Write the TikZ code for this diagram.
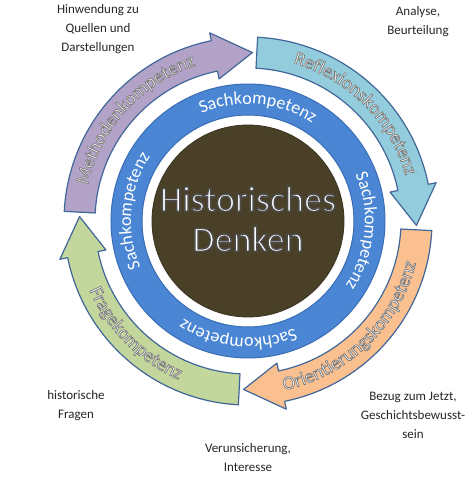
\documentclass[tikz,border=0pt]{standalone}
\usepackage{fontspec}
\setmainfont{Carlito}
\usetikzlibrary{decorations.text}
\definecolor{methodenFill}{HTML}{B3A2C7}
\definecolor{reflexionFill}{HTML}{93CDDD}
\definecolor{orientierungFill}{HTML}{FAC090}
\definecolor{frageFill}{HTML}{C3D69B}
\definecolor{arrowBorder}{HTML}{41669A}
\definecolor{ringBlue}{HTML}{4A86D4}
\definecolor{ringBorder}{HTML}{3B6DB5}
\definecolor{coreBrown}{HTML}{4A4028}
\tikzstyle{kompetenzArrow} = [draw=arrowBorder, line width=1.2pt, line join=round]
\tikzstyle{note} = [align=center, inner sep=0pt, text=black!85,
    font=\fontsize{13}{19}\selectfont]
\tikzstyle{arcText} = [decorate, decoration={text along path, text align=center}]
% white letters with a grey outline (fill and stroke)
\newcommand{\outlineOn}[2]{\special{pdf:literal direct 2 Tr #1 #1 #1 RG #2 w}}
\newcommand{\outlineOff}{\special{pdf:literal direct 0 Tr}}
\newcommand{\arrowFont}{\fontsize{19}{19}\selectfont}
\newcommand{\ringFont}{\fontsize{18}{18}\selectfont}
% curved label on an arrow: radius, start, end, text
\newcommand{\arcLabel}[4]{%
  \path[arcText, decoration={text color=white, text={|\arrowFont\color{white}\outlineOn{0.48}{0.7}|#4}}]
    (#2:#1) arc[start angle=#2, end angle=#3, radius=#1];
  \pgfextra{\outlineOff}
}
\begin{document}
\begin{tikzpicture}
    \useasboundingbox[fill=white] (-248pt,-262pt) rectangle (227pt,221pt);
    % four arrows round the ring
    \foreach \tail/\fillcol in {177/methodenFill, 87/reflexionFill, -3/orientierungFill, -93/frageFill} {
      \pgfmathsetmacro{\tip}{\tail-88.5}
      \pgfmathsetmacro{\head}{\tip+13}
      \draw[kompetenzArrow, fill=\fillcol] (\tail:153pt) arc[start angle=\tail, end angle=\head, radius=153pt]
        -- (\head:145pt) -- (\tip:168.5pt) -- (\head:192pt) -- (\head:184pt)
        arc[start angle=\head, end angle=\tail, radius=184pt] -- cycle;
    }
    \arcLabel{164pt}{183}{93}{Methodenkompetenz}
    \arcLabel{164pt}{90}{0}{Reflexionskompetenz}
    \arcLabel{173pt}{-91}{-1}{Orientierungskompetenz}
    \arcLabel{173pt}{180}{270}{Fragekompetenz}
    % blue ring and core
    \draw[fill=ringBlue, draw=ringBorder, line width=1pt, even odd rule]
      (0,0) circle[radius=137pt] (0,0) circle[radius=106pt];
    \foreach \c in {85,-5,-95,175}
      \path[arcText, decoration={text color=white, text={|\ringFont|Sachkompetenz}}]
        (\c+40:117pt) arc[start angle=\c+40, end angle=\c-40, radius=117pt];
    \draw[fill=coreBrown, draw=coreBrown!80!black, line width=0.8pt] (0,0) circle[radius=96pt];
    \node[align=center, text=white, font=\fontsize{36}{40}\selectfont] (historischesDenken) at (0pt,2pt)
      {\outlineOn{0.3}{1.5}Historisches\\Denken\outlineOff};
    % notes outside
    \node[note] (hinwendung) at (-150pt,191.5pt) {Hinwendung zu\\Quellen und\\Darstellungen};
    \node[note] (analyse) at (170pt,199pt) {Analyse,\\Beurteilung};
    \node[note] (bezugJetzt) at (165pt,-194.5pt) {Bezug zum Jetzt,\\Geschichtsbewusst-\\sein};
    \node[note] (verunsicherung) at (0pt,-237pt) {Verunsicherung,\\Interesse};
    \node[note] (historischeFragen) at (-172pt,-184.5pt) {historische\\Fragen};
\end{tikzpicture}
\end{document}
